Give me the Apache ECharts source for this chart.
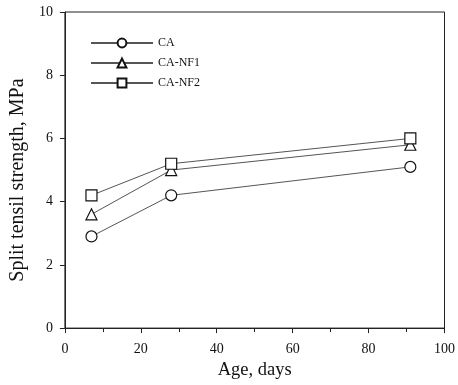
<!DOCTYPE html>
<html>
<head>
<meta charset="utf-8">
<script src="https://cdn.jsdelivr.net/npm/echarts@6/dist/echarts.min.js"></script>
<style>
  html, body { margin: 0; padding: 0; background: #fff; }
  #chart { width: 458px; height: 385px; }
</style>
</head>
<body>
<div id="chart"></div>
<script>
// Curing ages (days) and split tensile strength per mix
const ages = [7, 28, 91];
const seriesNames = ['CA', 'CA-NF1', 'CA-NF2'];
const caValues = [2.9, 4.2, 5.1];
const caNf1Values = [3.6, 5.0, 5.8];
const caNf2Values = [4.2, 5.2, 6.0];
const symbols = ['circle', 'triangle', 'rect'];

const font = '"Liberation Serif", "Times New Roman", serif';
const ink = '#222';

function pairs(vals) {
  return ages.map((a, i) => [a, vals[i]]);
}

const allValues = [caValues, caNf1Values, caNf2Values];

const chart = echarts.init(document.getElementById('chart'));
chart.setOption({
  animation: false,
  backgroundColor: '#fff',
  grid: {
    left: 61, right: 11, top: 12, bottom: 51,
    show: true, borderColor: ink, borderWidth: 1, backgroundColor: 'transparent'
  },
  legend: {
    left: 85, top: 32, orient: 'vertical',
    itemWidth: 62, itemHeight: 11, itemGap: 8,
    textStyle: { fontFamily: font, fontSize: 12, color: '#111' },
    data: seriesNames
  },
  xAxis: {
    type: 'value', min: 0, max: 100, interval: 20,
    name: 'Age, days', nameLocation: 'middle', nameGap: 26,
    nameTextStyle: { fontFamily: font, fontSize: 18.5, color: '#111' },
    axisLine: { show: true, lineStyle: { color: ink, width: 1 } },
    axisTick: { show: true, inside: false, length: 5, lineStyle: { color: ink } },
    minorTick: { show: true, splitNumber: 2, length: 4, lineStyle: { color: ink } },
    axisLabel: { fontFamily: font, fontSize: 14, color: '#111', margin: 14 },
    splitLine: { show: false }
  },
  yAxis: {
    type: 'value', min: 0, max: 10, interval: 2,
    name: 'Split tensil strength, MPa', nameLocation: 'middle', nameGap: 36,
    nameTextStyle: { fontFamily: font, fontSize: 20, color: '#111', padding: [0, 20, 0, 0] },
    axisLine: { show: true, lineStyle: { color: ink, width: 1 } },
    axisTick: { show: true, inside: false, length: 5, lineStyle: { color: ink } },
    axisLabel: { fontFamily: font, fontSize: 14, color: '#111', margin: 12 },
    splitLine: { show: false }
  },
  series: seriesNames.map((name, i) => ({
    name: name,
    type: 'line',
    data: pairs(allValues[i]),
    symbol: symbols[i],
    symbolSize: 11,
    showAllSymbol: true,
    lineStyle: { color: '#555', width: 1 },
    itemStyle: { color: '#fff', borderColor: '#111', borderWidth: 1.2 },
    emphasis: { disabled: true }
  }))
});
</script>
</body>
</html>
